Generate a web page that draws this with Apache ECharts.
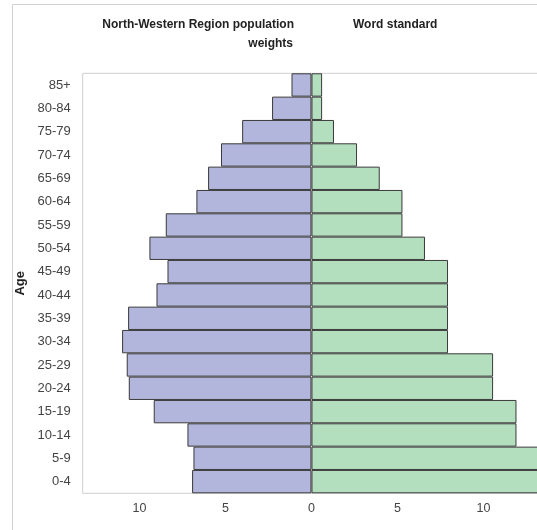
<!DOCTYPE html>
<html>
<head>
<meta charset="utf-8">
<script src="https://cdn.jsdelivr.net/npm/echarts@6/dist/echarts.min.js"></script>
<style>
html,body{margin:0;padding:0;background:#fff;}
#chart{width:537px;height:530px;}
</style>
</head>
<body>
<div id="chart"></div>
<script>
// Age groups, bottom to top
var ageGroups = ['0-4','5-9','10-14','15-19','20-24','25-29','30-34','35-39','40-44','45-49','50-54','55-59','60-64','65-69','70-74','75-79','80-84','85+'];
// North-Western Region population weights (%)
var regionWeights = [6.94, 6.86, 7.21, 9.17, 10.62, 10.74, 11.01, 10.66, 9.01, 8.37, 9.42, 8.47, 6.69, 6.01, 5.26, 4.03, 2.29, 1.16];
// World standard weights (%)
var worldWeights = [13.8, 13.8, 11.92, 11.92, 10.56, 10.56, 7.94, 7.94, 7.94, 7.94, 6.6, 5.29, 5.29, 3.97, 2.65, 1.31, 0.62, 0.62];
var xTickValues = [-10, -5, 0, 5, 10];
var leftTitleLines = ['North-Western Region population', 'weights'];
var rightTitle = 'Word standard';
var axisTitle = 'Age';

var chart = echarts.init(document.getElementById('chart'), null, {renderer: 'canvas'});
var font = 'Liberation Sans, Arial, sans-serif';
var option = {
  backgroundColor: '#fff',
  animation: false,
  textStyle: {fontFamily: font},
  grid: {
    left: 82.7, top: 73.3, height: 420, width: 465.6,
    outerBoundsMode: 'none', containLabel: false,
    show: true, borderColor: '#cfcfcf', borderWidth: 1, backgroundColor: 'transparent'
  },
  xAxis: {
    type: 'value', min: -13.3, max: 13.77,
    axisLine: {show: false}, axisTick: {show: false},
    splitLine: {show: false},
    axisLabel: {
      customValues: xTickValues,
      formatter: function (v) { return Math.abs(v); },
      fontSize: 12.5, color: '#444', fontFamily: font, margin: 9
    }
  },
  yAxis: {
    type: 'category', data: ageGroups,
    axisLine: {show: false}, axisTick: {show: false},
    axisLabel: {fontSize: 13, color: '#444', fontFamily: font, margin: 12},
    name: axisTitle, nameLocation: 'middle', nameRotate: 90, nameGap: 50,
    nameTextStyle: {fontSize: 13, fontWeight: 'bold', color: '#222', fontFamily: font}
  },
  series: [
    {
      type: 'bar', name: 'North-Western Region',
      data: regionWeights.map(function (v) { return -v; }),
      barCategoryGap: 0, barGap: '-100%',
      itemStyle: {color: '#b3b6dc', borderColor: '#3a3a3a', borderWidth: 1}
    },
    {
      type: 'bar', name: 'World standard',
      data: worldWeights,
      barCategoryGap: 0, barGap: '-100%',
      itemStyle: {color: '#b4dfbf', borderColor: '#3a3a3a', borderWidth: 1}
    }
  ],
  graphic: [
    {type: 'rect', shape: {x: 12.5, y: 4.5, width: 700, height: 700}, style: {fill: 'none', stroke: '#d0d0d0', lineWidth: 1}, silent: true, z: -1},
    {type: 'text', x: 294, y: 25, style: {text: leftTitleLines[0], font: 'bold 12px ' + font, fill: '#222', textAlign: 'right', textVerticalAlign: 'middle'}},
    {type: 'text', x: 293, y: 44, style: {text: leftTitleLines[1], font: 'bold 12px ' + font, fill: '#222', textAlign: 'right', textVerticalAlign: 'middle'}},
    {type: 'text', x: 353, y: 25, style: {text: rightTitle, font: 'bold 12px ' + font, fill: '#222', textAlign: 'left', textVerticalAlign: 'middle'}}
  ]
};
chart.setOption(option);
</script>
</body>
</html>
